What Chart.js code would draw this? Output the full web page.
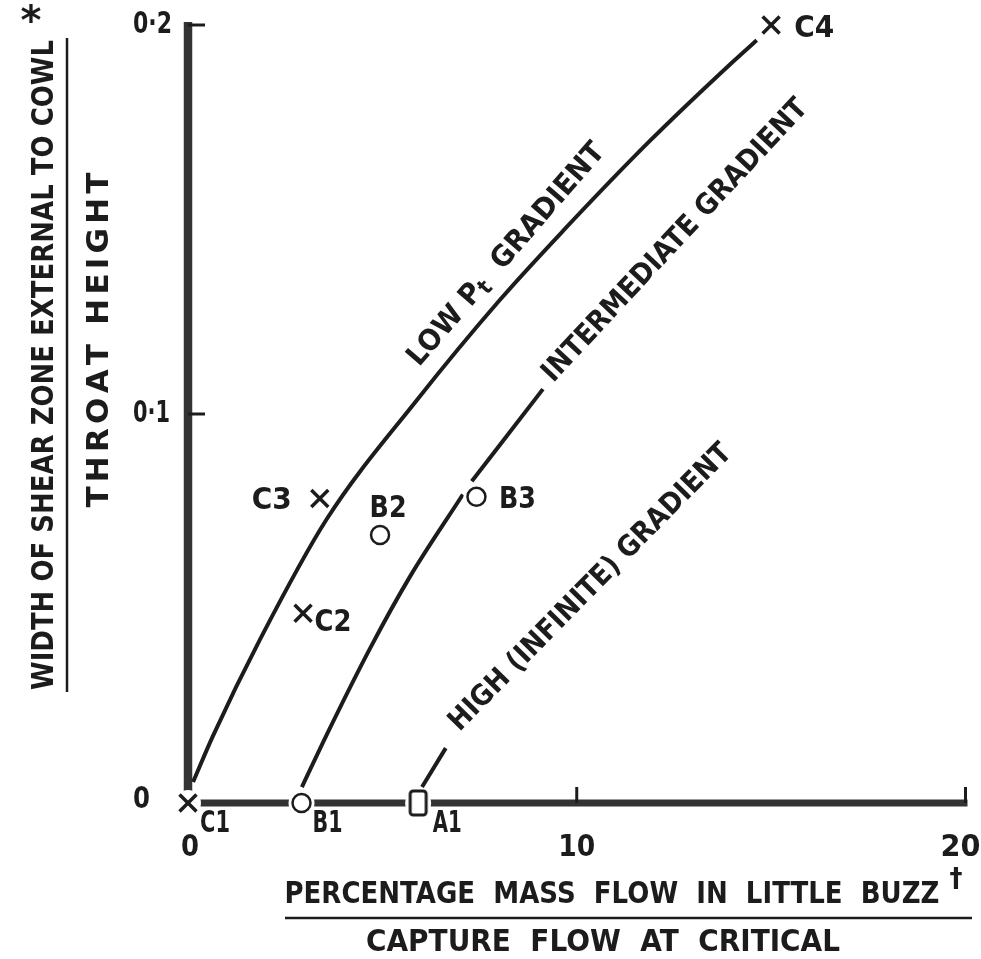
<!DOCTYPE html>
<html>
<head>
<meta charset="utf-8">
<script src="https://cdn.jsdelivr.net/npm/chart.js@4.4.1/dist/chart.umd.min.js"></script>
<style>html,body{margin:0;padding:0;background:#fff}canvas{display:block}</style>
</head>
<body>
<canvas id="c" width="981" height="959"></canvas>
<script>
// ---------- data ----------
const xTickValues = [0, 10, 20];
const xTickLabels = ['0', '10', '20'];
const yTickValues = [0, 0.1, 0.2];
const yTickLabels = ['0', '0·1', '0·2'];

// LOW Pt GRADIENT curve
const lowX = [0.13, 0.64, 1.85, 3.57, 5.89, 8.02, 9.64, 11.88, 14.01, 14.63];
const lowY = [0.0054, 0.0172, 0.0420, 0.0730, 0.1036, 0.1293, 0.1470, 0.1702, 0.1905, 0.1961];
// INTERMEDIATE GRADIENT curve (two pieces, broken at B3)
const interX1 = [2.93, 3.57, 4.68, 5.71, 7.07];
const interY1 = [0.0041, 0.0176, 0.0397, 0.0582, 0.0793];
const interX2 = [7.30, 9.13];
const interY2 = [0.0827, 0.1064];
// HIGH (INFINITE) GRADIENT stub
const highX = [6.02, 6.63];
const highY = [0.0041, 0.0141];

// test points
const crossNames = ['C1', 'C2', 'C3', 'C4'];
const crossX = [0, 2.96, 3.39, 15.0];
const crossY = [0, 0.0488, 0.0783, 0.2];
const circleNames = ['B1', 'B2', 'B3'];
const circleX = [2.92, 4.94, 7.42];
const circleY = [0, 0.0689, 0.0787];
const squareNames = ['A1'];
const squareX = [5.92];
const squareY = [0];

// curve captions (anchored in data units)
const curveCaptions = ['LOW', 'INTERMEDIATE GRADIENT', 'HIGH (INFINITE) GRADIENT'];
const captionX = [8.2, 12.54, 10.36];
const captionY = [0.1409, 0.1445, 0.0553];

// ---------- styling / placement ----------
const ink = '#1c1c1c';
const axisInk = '#333333';
const FONT = '"DejaVu Sans", "Liberation Sans", sans-serif';

const labelPlace = { // pixel offsets from marker, text width
  C1: [27, 21, 30], C2: [30, 10, 37], C3: [-48, 3, 40], C4: [43, 4, 40],
  B1: [26, 21, 30], B2: [8, -26, 37], B3: [41, 3, 37], A1: [29, 21, 29]
};
const captionStyle = [ {angle: 49, w: 285}, {angle: 47, w: 375}, {angle: 45.5, w: 390} ];

function pts(xs, ys) { return xs.map((x, i) => ({x: x, y: ys[i]})); }

// rounded-rectangle marker image
const sq = document.createElement('canvas');
sq.width = 22; sq.height = 30;
(function () {
  const g = sq.getContext('2d');
  g.fillStyle = '#fff'; g.strokeStyle = ink; g.lineWidth = 3;
  g.beginPath();
  if (g.roundRect) g.roundRect(3, 3, 16, 24, 3); else g.rect(3, 3, 16, 24);
  g.fill(); g.stroke();
})();

function txt(ctx, s, x, y, o) {
  ctx.save();
  ctx.translate(x, y);
  if (o.angle) ctx.rotate(-o.angle * Math.PI / 180);
  ctx.font = 'bold ' + o.size + 'px ' + FONT;
  const m = ctx.measureText(s).width;
  const sx = o.w ? o.w / m : 1;
  ctx.scale(sx, 1);
  ctx.fillStyle = ink;
  ctx.textAlign = o.align || 'center';
  ctx.textBaseline = 'middle';
  ctx.fillText(s, 0, 0);
  ctx.restore();
}

// letter-spaced text spread to a width without stretching glyphs
function spaced(ctx, s, x, y, o) {
  ctx.save();
  ctx.translate(x, y);
  if (o.angle) ctx.rotate(-o.angle * Math.PI / 180);
  ctx.font = 'bold ' + o.size + 'px ' + FONT;
  const chars = Array.from(s);
  const ws = chars.map(c => ctx.measureText(c).width);
  const m = ws.reduce((a, b) => a + b, 0);
  const gap = Math.max(0, (o.w - m) / (chars.length - 1));
  const tot = m + gap * (chars.length - 1);
  let cx = -tot / 2;
  ctx.fillStyle = ink; ctx.textAlign = 'left'; ctx.textBaseline = 'middle';
  chars.forEach((c, i) => { ctx.fillText(c, cx, 0); cx += ws[i] + gap; });
  ctx.restore();
}

function run(ctx, parts, cx, cy, angle, targetW) {
  ctx.save();
  ctx.translate(cx, cy);
  ctx.rotate(-angle * Math.PI / 180);
  let total = 0;
  parts.forEach(p => { ctx.font = 'bold ' + p.size + 'px ' + FONT; p.m = ctx.measureText(p.t).width; total += p.m; });
  const sx = targetW / total;
  ctx.scale(sx, 1);
  let x = -total / 2;
  ctx.fillStyle = ink; ctx.textBaseline = 'middle'; ctx.textAlign = 'left';
  parts.forEach(p => { ctx.font = 'bold ' + p.size + 'px ' + FONT; ctx.fillText(p.t, x, p.dy || 0); x += p.m; });
  ctx.restore();
}

const deco = {
  id: 'deco',
  beforeDatasetsDraw(chart) {
    const ctx = chart.ctx, xs = chart.scales.x, ys = chart.scales.y;
    const x0 = xs.getPixelForValue(0), y0 = ys.getPixelForValue(0);
    const yTop = ys.getPixelForValue(0.2), xEnd = xs.getPixelForValue(20);
    ctx.save();
    ctx.strokeStyle = axisInk; ctx.lineCap = 'butt';
    // y axis bar
    ctx.lineWidth = 8.5;
    ctx.beginPath(); ctx.moveTo(x0, yTop - 3); ctx.lineTo(x0, y0); ctx.stroke();
    // x axis bar
    ctx.lineWidth = 7;
    ctx.beginPath(); ctx.moveTo(x0, y0); ctx.lineTo(xEnd + 2, y0); ctx.stroke();
    // ticks
    ctx.strokeStyle = ink; ctx.lineWidth = 3;
    yTickValues.forEach(v => {
      if (v === 0) return;
      const py = ys.getPixelForValue(v);
      ctx.beginPath(); ctx.moveTo(x0, py); ctx.lineTo(x0 + 17, py); ctx.stroke();
    });
    xTickValues.forEach(v => {
      if (v === 0) return;
      const px = xs.getPixelForValue(v);
      ctx.beginPath(); ctx.moveTo(px, y0); ctx.lineTo(px, y0 - 16); ctx.stroke();
    });
    ctx.restore();
  },
  afterDatasetsDraw(chart) {
    const ctx = chart.ctx, xs = chart.scales.x, ys = chart.scales.y;
    const x0 = xs.getPixelForValue(0), y0 = ys.getPixelForValue(0);
    // y tick labels
    const yW = {'0': 17, '0·1': 37, '0·2': 39};
    yTickValues.forEach((v, i) => {
      const s = yTickLabels[i];
      txt(ctx, s, x0 - 55, ys.getPixelForValue(v) + (v === 0 ? -3 : 0), {size: 31, w: yW[s], align: 'left'});
    });
    // x tick labels
    const xW = {'0': 18, '10': 37, '20': 40};
    xTickValues.forEach((v, i) => {
      const s = xTickLabels[i];
      const dx = v === 0 ? 2 : (v === 20 ? -5 : 0);
      txt(ctx, s, xs.getPixelForValue(v) + dx, y0 + 45, {size: 31, w: xW[s]});
    });
    // marker labels
    const all = [[crossNames, crossX, crossY], [circleNames, circleX, circleY], [squareNames, squareX, squareY]];
    all.forEach(([n, X, Y]) => n.forEach((name, i) => {
      const p = labelPlace[name];
      txt(ctx, name, xs.getPixelForValue(X[i]) + p[0], ys.getPixelForValue(Y[i]) + p[1], {size: 30, w: p[2]});
    }));
    // curve captions
    const c0 = captionStyle[0];
    run(ctx, [{t: 'LOW P', size: 29}, {t: 't', size: 22, dy: 6}, {t: '  GRADIENT', size: 29}],
        xs.getPixelForValue(captionX[0]), ys.getPixelForValue(captionY[0]), c0.angle, c0.w);
    for (let i = 1; i < curveCaptions.length; i++) {
      const st = captionStyle[i];
      txt(ctx, curveCaptions[i], xs.getPixelForValue(captionX[i]), ys.getPixelForValue(captionY[i]), {size: 29, w: st.w, angle: st.angle});
    }
    // axis titles
    txt(ctx, 'WIDTH OF SHEAR ZONE EXTERNAL TO COWL', 45, 365, {size: 31, w: 650, angle: 90});
    txt(ctx, '*', 31, 24, {size: 40});
    ctx.save(); ctx.strokeStyle = ink; ctx.lineWidth = 2.5;
    ctx.beginPath(); ctx.moveTo(67, 38); ctx.lineTo(67, 692); ctx.stroke();
    ctx.beginPath(); ctx.moveTo(285, 918); ctx.lineTo(972, 918); ctx.stroke();
    ctx.restore();
    spaced(ctx, 'THROAT HEIGHT', 100, 340, {size: 31, w: 335, angle: 90});
    txt(ctx, 'PERCENTAGE  MASS  FLOW  IN  LITTLE  BUZZ', 612, 895, {size: 31, w: 655});
    txt(ctx, '†', 956, 880, {size: 26});
    txt(ctx, 'CAPTURE  FLOW  AT  CRITICAL', 603, 943, {size: 31, w: 474});
  }
};

const haloPts = pts(crossX.concat(circleX, squareX), crossY.concat(circleY, squareY));

const curveStyle = {showLine: true, borderColor: ink, borderWidth: 4, pointRadius: 0, fill: false, clip: false,
                    cubicInterpolationMode: 'monotone'};

new Chart(document.getElementById('c'), {
  type: 'scatter',
  data: {
    datasets: [
      {label: 'C points', data: pts(crossX, crossY), pointStyle: 'crossRot', pointRadius: 12,
       pointBorderColor: ink, pointBorderWidth: 3.5, showLine: false, clip: false},
      {label: 'B points', data: pts(circleX, circleY), pointStyle: 'circle', pointRadius: 9,
       pointBackgroundColor: '#fff', pointBorderColor: ink, pointBorderWidth: 2.5, showLine: false, clip: false},
      {label: 'A points', data: pts(squareX, squareY), pointStyle: sq, pointRadius: 12, showLine: false, clip: false},
      {label: 'halo', data: haloPts, pointStyle: 'circle', pointRadius: 13,
       pointBackgroundColor: '#fff', pointBorderWidth: 0, pointBorderColor: '#fff', showLine: false, clip: false},
      Object.assign({label: 'Low Pt gradient', data: pts(lowX, lowY)}, curveStyle),
      Object.assign({label: 'Intermediate gradient a', data: pts(interX1, interY1)}, curveStyle),
      Object.assign({label: 'Intermediate gradient b', data: pts(interX2, interY2)}, curveStyle),
      Object.assign({label: 'High gradient', data: pts(highX, highY)}, curveStyle)
    ]
  },
  options: {
    responsive: false,
    devicePixelRatio: 1,
    animation: false,
    events: [],
    layout: {padding: {left: 188, right: 15, top: 25, bottom: 156}},
    plugins: {legend: {display: false}, tooltip: {enabled: false}},
    scales: {
      x: {type: 'linear', min: 0, max: 20, display: false},
      y: {type: 'linear', min: 0, max: 0.2, display: false}
    }
  },
  plugins: [deco]
});
</script>
</body>
</html>
